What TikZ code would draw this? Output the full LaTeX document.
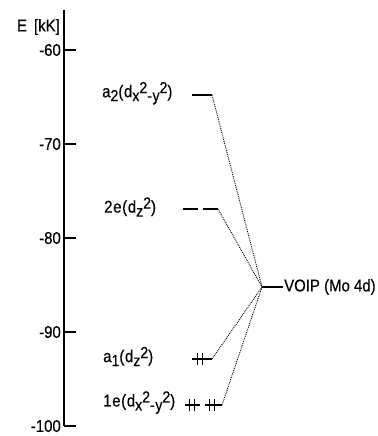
\documentclass[tikz,border=0pt]{standalone}
\usepackage{fontspec}
\setmainfont[FakeStretch=0.88, FakeBold=0.5]{Liberation Sans}
\usetikzlibrary{positioning}
\tikzset{axis_t/.style={line width=1.7pt},
tick_t/.style={line width=1.4pt},
level/.style={line width=1.8pt},
spin/.style={line width=1.9pt},
corr/.style={line width=0.9pt, dash pattern=on 0.9pt off 1pt},
lab/.style={anchor=west, inner sep=0pt, font=\fontsize{17}{19}\selectfont\addfontfeatures{LetterSpace=4}},
ticklab/.style={anchor=east, inner sep=0pt, font=\fontsize{17}{19}\selectfont}}
\newcommand{\lo}[1]{\raisebox{-4pt}{\fontsize{16}{16}\selectfont\addfontfeatures{LetterSpace=4}#1}}
\newcommand{\hi}[1]{\raisebox{4pt}{\fontsize{16}{16}\selectfont\addfontfeatures{LetterSpace=4}#1}}
\newcommand{\spinpair}[1]{%
  \draw[spin] ([xshift=-2.5pt,yshift=-6pt]#1) -- ++(0pt,12pt);
  \draw[spin] ([xshift=2.5pt,yshift=-6pt]#1) -- ++(0pt,12pt);}

\begin{document}
\begin{tikzpicture}[x=1pt, y=9.4pt]
  \useasboundingbox (0,-101.06) rectangle (377,-54.68);
  % energy axis
  \coordinate (top) at (64,-55.74);
  \coordinate (bot) at (64,-100);
  \draw[axis_t] (top) -- (bot);
  \node[ticklab] (elab) at (60,-57.55) {E\, [kK]};
  \foreach \e [count=\i] in {-60,-70,-80,-90,-100} {
    \draw[tick_t] (64,\e) -- (76,\e);
    \node[ticklab] (tl\i) at (61,\e) {\e};
  }
  % levels
  \coordinate (a2L) at (192,-64.79);  \coordinate (a2R) at (212,-64.79);
  \coordinate (eaL) at (183,-76.91);  \coordinate (eaR) at (198,-76.91);
  \coordinate (ebL) at (203,-76.91);  \coordinate (ebR) at (218,-76.91);
  \coordinate (vL) at (262,-85.21);   \coordinate (vR) at (283,-85.21);
  \coordinate (a1L) at (192,-92.87);  \coordinate (a1R) at (212,-92.87);
  \coordinate (faL) at (185,-97.77);  \coordinate (faR) at (200,-97.77);
  \coordinate (fbL) at (205,-97.77);  \coordinate (fbR) at (222,-97.77);
  \draw[level] (a2L) -- (a2R);
  \draw[level] (eaL) -- (eaR);
  \draw[level] (ebL) -- (ebR);
  \draw[level] (vL) -- (vR);
  \draw[level] (a1L) -- (a1R);
  \draw[level] (faL) -- (faR);
  \draw[level] (fbL) -- (fbR);
  % electrons
  \coordinate (a1e) at (200,-92.87);
  \coordinate (fae) at (192,-97.77);
  \coordinate (fbe) at (212,-97.77);
  \spinpair{a1e}
  \spinpair{fae}
  \spinpair{fbe}
  % correlation lines
  \draw[corr] (a2R) -- (vL);
  \draw[corr] (ebR) -- (vL);
  \draw[corr] (a1R) -- (vL);
  \draw[corr] (fbR) -- (vL);
  % labels
  \node[lab] (a2lab) at (102,-64.6) {a\lo{2}(d\lo{x}\hi{2}\lo{-y}\hi{2})};
  \node[lab] (elab2) at (104,-76.7) {2e(d\lo{z}\hi{2})};
  \node[lab] (a1lab) at (103,-92.6) {a\lo{1}(d\lo{z}\hi{2})};
  \node[lab] (flab) at (103,-97.5) {1e(d\lo{x}\hi{2}\lo{-y}\hi{2})};
  \node[anchor=west, inner sep=0pt, font=\fontsize{17}{19}\selectfont, right=1pt of vR] (vlab) {VOIP (Mo 4d)};
\end{tikzpicture}
\end{document}
